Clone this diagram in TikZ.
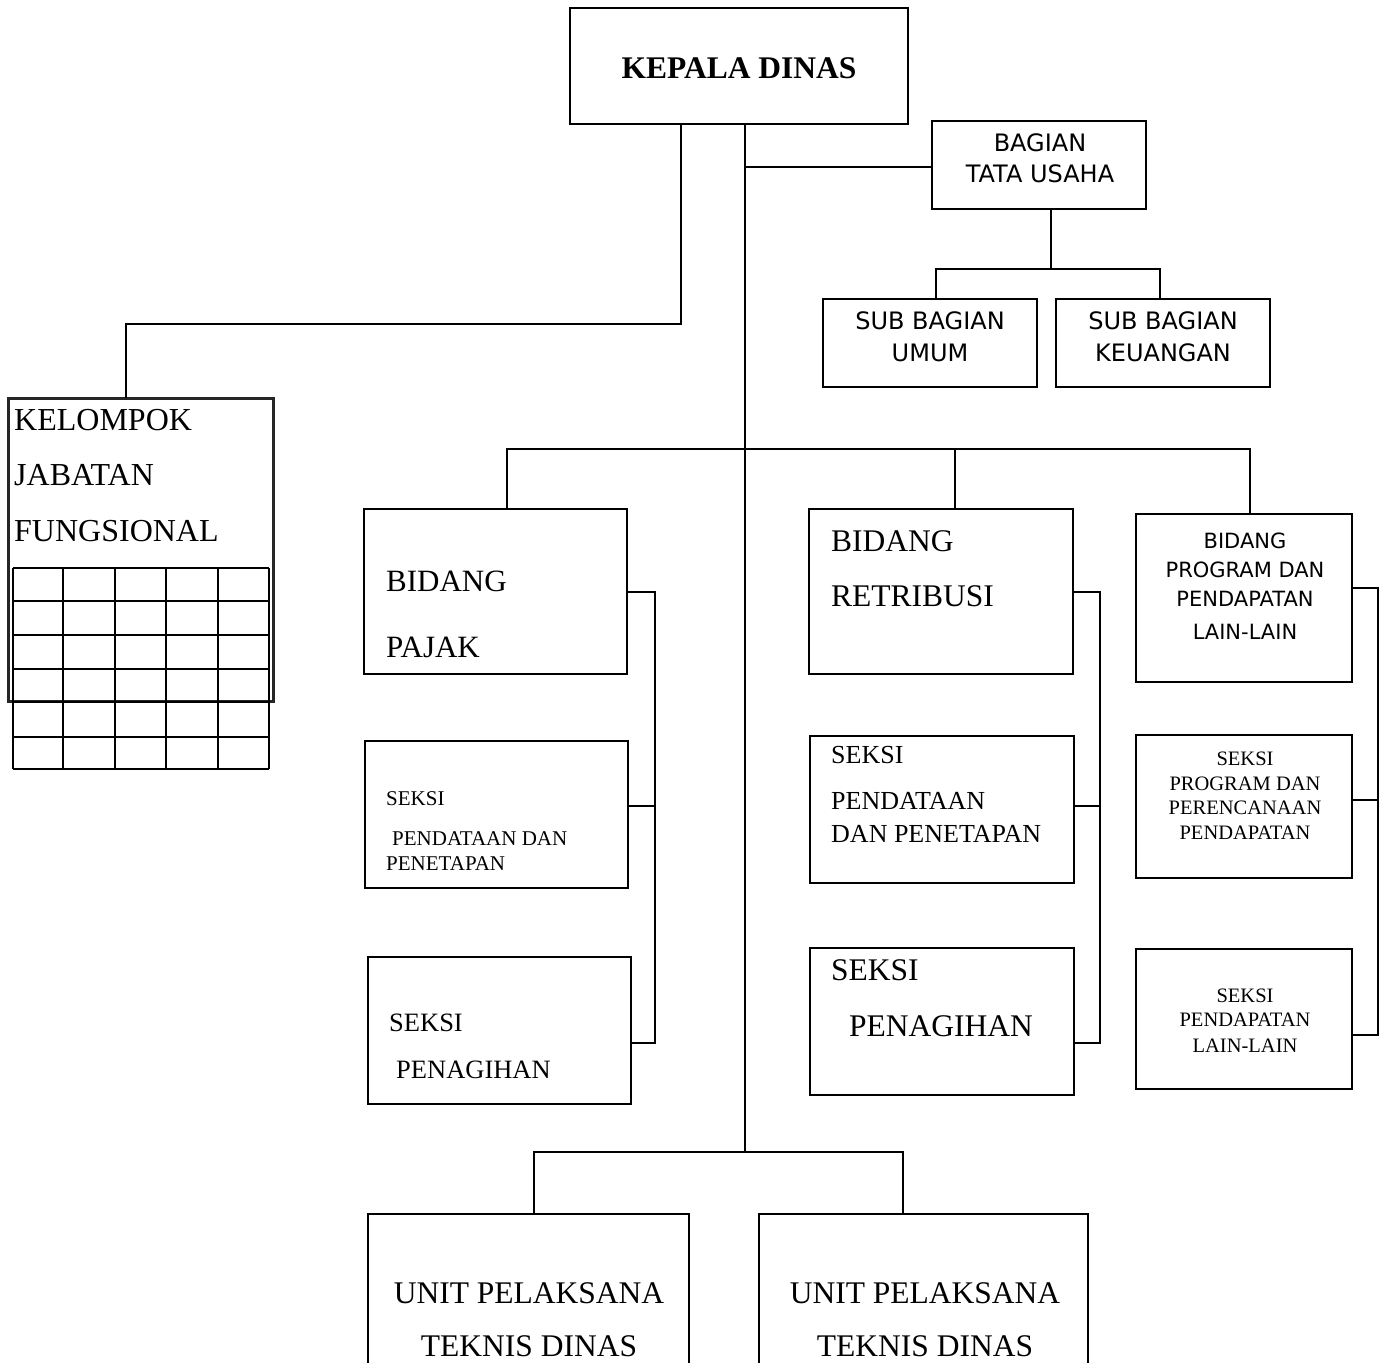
\documentclass[tikz,border=0pt]{standalone}
\usepackage{fontspec}
\setmainfont{Liberation Serif}
\newfontfamily\dvs{DejaVu Sans}
\newcommand{\fs}[1]{\fontsize{#1}{#1}\selectfont}
\newcommand{\bx}[6][]{\node[bx,#1, minimum width={#5pt-#3pt}, minimum height={#6pt-#4pt}] (#2) at (#3,#4) {};}
\begin{document}
\begin{tikzpicture}[x=1pt,y=-1pt,
  bx/.style={draw, line width=1.8pt, inner sep=0pt, outer sep=0pt, anchor=north west},
  conn/.style={line width=1.8pt},
  tx/.style={inner sep=0pt, anchor=base west},
  tc/.style={inner sep=0pt, anchor=base},
  gridline/.style={line width=1.3pt}
]
\useasboundingbox (0,0) rectangle (1386,1362);
\clip (0,0) rectangle (1386,1362);
\fill[white] (0,0) rectangle (1386,1362);

% boxes
\bx{kepala}{570}{8}{908}{124}
\bx{tu}{932}{121}{1146}{209}
\bx{umum}{823}{299}{1037}{387}
\bx{keu}{1056}{299}{1270}{387}
\bx[draw=black!85,line width=3pt]{kelompok}{8}{398}{273}{701}
\bx{pajak}{364}{509}{627}{674}
\bx{pend1}{365}{741}{628}{888}
\bx{tagih1}{368}{957}{631}{1104}
\bx{retri}{809}{509}{1073}{674}
\bx{pend2}{810}{736}{1074}{883}
\bx{tagih2}{810}{948}{1074}{1095}
\bx{prog}{1136}{514}{1352}{682}
\bx{sprog}{1136}{735}{1352}{878}
\bx{slain}{1136}{949}{1352}{1089}
\bx{unit1}{368}{1214}{689}{1420}
\bx{unit2}{759}{1214}{1088}{1420}

% grid of KELOMPOK
\foreach \gx in {13,63,115,166,218,269} \draw[gridline] (\gx,568) -- (\gx,769);
\foreach \gy in {568,601,635,669,702,737,769} \draw[gridline] (13,\gy) -- (269,\gy);

% texts
\node[tc,font=\fs{31.5}\bfseries] at (739,79) {KEPALA DINAS};
\node[tc,font=\dvs\fs{24}] at (1040,151) {BAGIAN};
\node[tc,font=\dvs\fs{24}] at (1040,182) {TATA USAHA};
\node[tc,font=\dvs\fs{24}] at (930,329) {SUB BAGIAN};
\node[tc,font=\dvs\fs{24}] at (930,361) {UMUM};
\node[tc,font=\dvs\fs{24}] at (1163,329) {SUB BAGIAN};
\node[tc,font=\dvs\fs{24}] at (1163,361) {KEUANGAN};

\node[tx,font=\fs{32}] at (14,430) {KELOMPOK};
\node[tx,font=\fs{32}] at (14,485) {JABATAN};
\node[tx,font=\fs{32}] at (14,541) {FUNGSIONAL};

\node[tx,font=\fs{31}] at (386,591) {BIDANG};
\node[tx,font=\fs{31}] at (386,657) {PAJAK};
\node[tx,font=\fs{21}] at (386,805) {SEKSI};
\node[tx,font=\fs{21}] at (392,845) {PENDATAAN DAN};
\node[tx,font=\fs{21}] at (386,870) {PENETAPAN};
\node[tx,font=\fs{26.5}] at (389,1031) {SEKSI};
\node[tx,font=\fs{26.5}] at (396,1078) {PENAGIHAN};

\node[tx,font=\fs{31.5}] at (831,551) {BIDANG};
\node[tx,font=\fs{31.5}] at (831,606) {RETRIBUSI};
\node[tx,font=\fs{26}] at (831,763) {SEKSI};
\node[tx,font=\fs{26}] at (831,809) {PENDATAAN};
\node[tx,font=\fs{26}] at (831,842) {DAN PENETAPAN};
\node[tx,font=\fs{31.5}] at (831,980) {SEKSI};
\node[tx,font=\fs{31.5}] at (849,1036) {PENAGIHAN};

\node[tc,font=\dvs\fs{21}] at (1245,548) {BIDANG};
\node[tc,font=\dvs\fs{21}] at (1245,577) {PROGRAM DAN};
\node[tc,font=\dvs\fs{21}] at (1245,606) {PENDAPATAN};
\node[tc,font=\dvs\fs{21}] at (1245,639) {LAIN-LAIN};
\node[tc,font=\fs{20.5}] at (1245,765) {SEKSI};
\node[tc,font=\fs{20.5}] at (1245,790) {PROGRAM DAN};
\node[tc,font=\fs{20.5}] at (1245,814) {PERENCANAAN};
\node[tc,font=\fs{20.5}] at (1245,839) {PENDAPATAN};
\node[tc,font=\fs{20.5}] at (1245,1002) {SEKSI};
\node[tc,font=\fs{20.5}] at (1245,1026) {PENDAPATAN};
\node[tc,font=\fs{20.5}] at (1245,1052) {LAIN-LAIN};

\node[tc,font=\fs{31.5}] at (529,1303) {UNIT PELAKSANA};
\node[tc,font=\fs{31.5}] at (529,1356) {TEKNIS DINAS};
\node[tc,font=\fs{31.5}] at (925,1303) {UNIT PELAKSANA};
\node[tc,font=\fs{31.5}] at (925,1356) {TEKNIS DINAS};

% connector coordinates
\coordinate (xa) at (681,0);
\coordinate (xk) at (126,324);
\coordinate (m1) at (745,167);
\coordinate (m3) at (745,1152);
\coordinate (tuj) at (1051,269);
\coordinate (ua) at (936,269);
\coordinate (ub) at (1160,269);
\coordinate (ba) at (507,449);
\coordinate (bb) at (955,449);
\coordinate (bc) at (1250,449);
\coordinate (pa) at (655,592);
\coordinate (pb) at (655,806);
\coordinate (pc) at (655,1043);
\coordinate (ra) at (1100,592);
\coordinate (rb) at (1100,806);
\coordinate (rc) at (1100,1043);
\coordinate (qa) at (1378,588);
\coordinate (qb) at (1378,800);
\coordinate (qc) at (1378,1035);
\coordinate (ua2) at (534,1152);
\coordinate (ub2) at (903,1152);

% connectors
\draw[conn] (kepala.south -| xa) |- (xk) -- (kelompok.north -| xk);
\draw[conn] (kepala.south -| m1) -- (m3);
\draw[conn] (m1) -- (tu.west |- m1);
\draw[conn] (tu.south -| tuj) -- (tuj);
\draw[conn] (umum.north -| ua) |- (ub) -- (keu.north -| ub);
\draw[conn] (pajak.north -| ba) |- (bc) -- (prog.north -| bc);
\draw[conn] (bb) -- (retri.north -| bb);
\draw[conn] (pajak.east |- pa) -| (pc) -- (tagih1.east |- pc);
\draw[conn] (pend1.east |- pb) -- (pb);
\draw[conn] (retri.east |- ra) -| (rc) -- (tagih2.east |- rc);
\draw[conn] (pend2.east |- rb) -- (rb);
\draw[conn] (prog.east |- qa) -| (qc) -- (slain.east |- qc);
\draw[conn] (sprog.east |- qb) -- (qb);
\draw[conn] (unit1.north -| ua2) |- (ub2) -- (unit2.north -| ub2);
\end{tikzpicture}
\end{document}
